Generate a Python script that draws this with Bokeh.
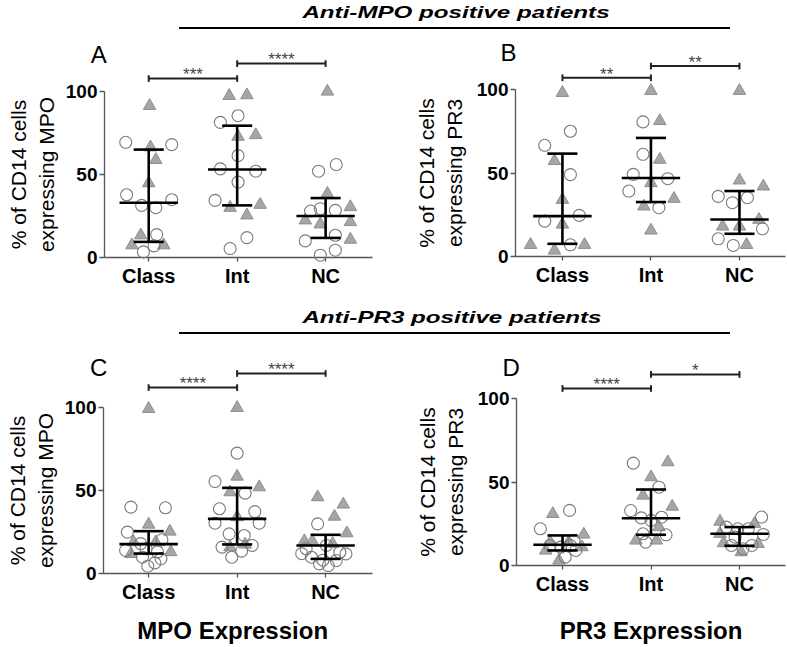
from bokeh.plotting import figure
from bokeh.models import Range1d, FixedTicker, Div
from bokeh.layouts import column, row
from bokeh.core.properties import value
from bokeh.embed import file_html
from bokeh.resources import INLINE

# ---------------- data ----------------
CATEGORIES = ["Class", "Int", "NC"]
Y_TICKS = [0, 50, 100]

# Panel A: anti-MPO patients, MPO expression
A_class_tri_y = [91.4, 66.4, 58.8, 44.8, 13.4, 7.4, 7.4]
A_class_tri_dx = [0.01, 0.02, 0.08, 0.0, -0.09, -0.19, 0.17]
A_class_circ_y = [69.4, 68.0, 37.8, 34.8, 31.4, 30.0, 13.8, 7.0, 3.4]
A_class_circ_dx = [-0.26, 0.26, -0.25, 0.26, -0.08, 0.08, 0.09, 0.06, -0.06]
A_int_tri_y = [97.4, 97.8, 72.8, 73.8, 30.0, 31.8, 25.4]
A_int_tri_dx = [-0.09, 0.11, 0.01, 0.21, -0.08, 0.26, 0.11]
A_int_circ_y = [81.4, 85.4, 61.4, 53.4, 52.0, 45.4, 34.4, 12.0, 5.4]
A_int_circ_dx = [-0.19, 0.01, 0.01, -0.19, 0.21, 0.01, -0.25, 0.11, -0.08]
A_nc_tri_y = [100.0, 38.4, 30.4, 22.4, 20.0, 21.4, 10.8]
A_nc_tri_dx = [0.02, 0.02, 0.28, -0.23, -0.06, 0.28, 0.28]
A_nc_circ_y = [56.0, 52.0, 28.0, 29.4, 28.4, 13.4, 10.0, 4.4, 1.4]
A_nc_circ_dx = [0.12, -0.08, -0.17, -0.06, 0.11, 0.11, -0.23, 0.11, -0.06]
A_median = [33.0, 53.0, 25.0]
A_q1 = [9.4, 31.4, 11.8]
A_q3 = [65.0, 79.4, 35.8]
A_sig = ["***", "****"]

# Panel B: anti-MPO patients, PR3 expression
B_class_tri_y = [98.0, 57.2, 34.0, 19.2, 7.0, 3.6, 7.0]
B_class_tri_dx = [0.0, -0.09, 0.0, 0.0, -0.36, -0.09, 0.25]
B_class_circ_y = [75.0, 66.6, 49.0, 24.6, 21.2, 7.0]
B_class_circ_dx = [0.09, -0.2, 0.09, 0.19, -0.2, 0.09]
B_int_tri_y = [99.2, 81.2, 58.0, 44.0, 30.0, 34.6, 15.6]
B_int_tri_dx = [0.0, 0.1, 0.1, 0.0, -0.08, 0.26, 0.0]
B_int_circ_y = [80.6, 61.2, 49.2, 46.6, 39.2, 29.2]
B_int_circ_dx = [-0.09, -0.09, -0.2, 0.19, -0.25, 0.09]
B_nc_tri_y = [99.2, 45.6, 42.0, 18.0, 18.0, 22.0, 7.0]
B_nc_tri_dx = [0.0, 0.0, 0.27, -0.19, 0.0, 0.22, 0.08]
B_nc_circ_y = [36.0, 32.2, 35.2, 16.6, 10.6, 6.6]
B_nc_circ_dx = [-0.24, -0.08, 0.09, 0.26, -0.24, -0.07]
B_median = [24.2, 47.0, 22.2]
B_q1 = [7.6, 32.6, 13.6]
B_q3 = [61.6, 71.0, 39.2]
B_sig = ["**", "**"]

# Panel C: anti-PR3 patients, MPO expression
C_class_tri_y = [99.2, 29.5, 25.3, 18.9, 18.9, 11.8, 12.9]
C_class_tri_dx = [0.0, 0.0, 0.24, -0.17, 0.08, -0.2, 0.25]
C_class_circ_y = [40.0, 39.6, 24.9, 20.3, 18.0, 13.9, 15.0, 13.0, 9.8, 9.0, 4.4, 6.4]
C_class_circ_dx = [-0.2, 0.19, -0.24, 0.15, -0.09, -0.26, -0.03, 0.1, -0.07, 0.14, -0.01, 0.07]
C_int_tri_y = [99.8, 58.4, 49.0, 52.0, 34.0, 15.9, 17.5]
C_int_tri_dx = [0.0, 0.0, -0.08, 0.25, 0.0, -0.08, 0.09]
C_int_circ_y = [72.5, 55.4, 48.4, 39.0, 37.3, 30.3, 30.3, 23.9, 22.9, 15.9, 16.9, 13.5, 9.8]
C_int_circ_dx = [0.0, -0.25, 0.09, -0.2, 0.2, -0.25, 0.25, -0.09, 0.08, -0.17, 0.17, 0.05, -0.06]
C_nc_tri_y = [46.0, 41.6, 34.3, 24.3, 19.5, 19.5, 17.9]
C_nc_tri_dx = [-0.09, 0.2, 0.1, 0.24, -0.24, -0.15, 0.08]
C_nc_circ_y = [29.9, 14.9, 16.9, 11.8, 9.8, 5.8, 4.8, 7.8, 12.8, 12.0, 8.0]
C_nc_circ_dx = [-0.09, -0.22, 0.01, 0.23, -0.16, -0.07, 0.03, 0.12, 0.16, -0.27, -0.03]
C_median = [17.7, 32.9, 16.9]
C_q1 = [12.0, 17.5, 8.8]
C_q3 = [25.5, 51.6, 23.3]
C_sig = ["****", "****"]

# Panel D: anti-PR3 patients, PR3 expression
D_class_tri_y = [30.9, 18.6, 11.0, 14.0, 14.0, 9.0, 3.0]
D_class_tri_dx = [-0.11, 0.24, 0.22, 0.07, -0.14, -0.19, -0.04]
D_class_circ_y = [33.0, 22.0, 12.0, 5.0, 9.0, 11.0, 12.0, 15.0]
D_class_circ_dx = [0.08, -0.25, 0.09, 0.03, 0.15, -0.02, -0.14, 0.13]
D_int_tri_y = [61.9, 52.9, 41.9, 35.3, 23.0, 15.0, 15.0]
D_int_tri_dx = [0.19, 0.0, -0.09, 0.24, 0.09, -0.17, 0.06]
D_int_circ_y = [61.3, 46.9, 32.9, 28.5, 27.0, 28.9, 19.0, 18.4, 14.0]
D_int_circ_dx = [-0.2, 0.09, -0.23, -0.11, 0.0, 0.12, -0.09, 0.17, -0.06]
D_nc_tri_y = [26.3, 25.0, 19.0, 13.4, 8.0, 13.0]
D_nc_tri_dx = [-0.22, 0.17, -0.22, -0.18, 0.02, 0.21]
D_nc_circ_y = [29.0, 23.0, 22.0, 18.6, 12.0, 10.0, 12.0, 17.0, 22.0]
D_nc_circ_dx = [0.25, -0.15, 0.1, 0.27, -0.09, 0.04, 0.14, -0.05, -0.02]
D_median = [12.4, 28.3, 19.0]
D_q1 = [9.0, 18.4, 11.8]
D_q3 = [18.0, 45.5, 23.0]
D_sig = ["****", "*"]

# ---------------- styles / layout ----------------
FONT = "Liberation Sans"
AXIS_COLOR = "#555555"
TRI_FILL = "#a6a6a6"
TRI_LINE = "#8e8e8e"
CIRC_LINE = "#7a7a7a"

LAYOUT = {
    "A": dict(w=395, h=256, bl=104, br=23, bt=51, bb=39, xr=(0.50, 3.53),
              brk=(107.8, 116.8), letter_xy=(0.435, 122.2), lab_std=5, xlab=None),
    "B": dict(w=392, h=256, bl=120, br=2, bt=49, bb=40, xr=(0.47, 3.52),
              brk=(107.0, 114.0), letter_xy=(0.39, 122.3), lab_std=8, xlab=None),
    "C": dict(w=395, h=295, bl=103, br=23, bt=55, bb=74, xr=(0.49, 3.53),
              brk=(112.0, 120.5), letter_xy=(0.435, 124.1), lab_std=5, xlab=(1.95, -34.4)),
    "D": dict(w=392, h=295, bl=121, br=2, bt=46, bb=82, xr=(0.48, 3.52),
              brk=(106.0, 114.4), letter_xy=(0.42, 118.8), lab_std=8, xlab=(2.0, -39.0)),
}


def make_panel(key, ylabel, xlabel, tri, circ, med, q1, q3, sig):
    L = LAYOUT[key]
    p = figure(width=L["w"], height=L["h"], x_range=Range1d(*L["xr"]), y_range=Range1d(0, 100),
               output_backend="svg", toolbar_location=None,
               min_border_left=L["bl"], min_border_right=L["br"],
               min_border_top=L["bt"], min_border_bottom=L["bb"])
    p.outline_line_color = None
    p.xgrid.visible = False
    p.ygrid.visible = False

    # axes
    p.xaxis.ticker = FixedTicker(ticks=[1, 2, 3])
    p.xaxis.major_label_overrides = {i + 1: c for i, c in enumerate(CATEGORIES)}
    p.yaxis.ticker = FixedTicker(ticks=Y_TICKS)
    for ax in (p.xaxis, p.yaxis):
        ax.axis_line_color = AXIS_COLOR
        ax.axis_line_width = 1.3
        ax.major_tick_line_color = AXIS_COLOR
        ax.major_tick_line_width = 1.3
        ax.major_tick_in = 0
        ax.minor_tick_line_color = None
        ax.major_label_text_font = FONT
        ax.major_label_text_font_style = "bold"
        ax.major_label_text_color = "black"
    p.xaxis.major_tick_out = 4
    p.xaxis.major_label_standoff = 3
    p.xaxis.major_label_text_font_size = "20px"
    p.yaxis.major_tick_out = 5
    p.yaxis.major_label_standoff = 2
    p.yaxis.major_label_text_font_size = "19px"
    p.yaxis.axis_label = ylabel
    p.yaxis.axis_label_text_font = FONT
    p.yaxis.axis_label_text_font_style = "normal"
    p.yaxis.axis_label_text_font_size = "21px"
    p.yaxis.axis_label_text_color = "black"
    p.yaxis.axis_label_standoff = L["lab_std"]

    # points
    for i, (dx, ys) in enumerate(tri):
        p.scatter([i + 1 + d for d in dx], ys, marker="triangle", size=12.5,
                  fill_color=TRI_FILL, line_color=TRI_LINE, line_width=1, level="overlay")
    for i, (dx, ys) in enumerate(circ):
        p.scatter([i + 1 + d for d in dx], ys, marker="circle", size=12,
                  fill_color=None, line_color=CIRC_LINE, line_width=1.1, level="overlay")

    # median + interquartile range
    xs = [1, 2, 3]
    kw = dict(line_color="black", line_width=2.6, level="overlay")
    p.segment(x0=xs, y0=q1, x1=xs, y1=q3, **kw)
    p.segment(x0=[x - 0.33 for x in xs], y0=med, x1=[x + 0.33 for x in xs], y1=med, **kw)
    p.segment(x0=[x - 0.17 for x in xs], y0=q1, x1=[x + 0.17 for x in xs], y1=q1, **kw)
    p.segment(x0=[x - 0.17 for x in xs], y0=q3, x1=[x + 0.17 for x in xs], y1=q3, **kw)

    # significance brackets
    b0, b1 = L["brk"]
    bk = dict(line_color="#222222", line_width=2, level="overlay")
    p.segment(x0=[1, 2], y0=[b0, b1], x1=[2, 3], y1=[b0, b1], **bk)
    p.segment(x0=[1, 2, 2, 3], y0=[b0 - 2, b0 - 2, b1 - 2, b1 - 2],
              x1=[1, 2, 2, 3], y1=[b0 + 2, b0 + 2, b1 + 2, b1 + 2], **bk)
    p.text(x=[1.5, 2.5], y=[b0 + 2.2, b1 + 2.2], text=sig, text_font=value(FONT),
           text_font_size=value("17px"), text_color="#444444", text_align="center",
           text_baseline="middle", level="overlay")

    # panel letter
    lx, ly = L["letter_xy"]
    p.text(x=[lx], y=[ly], text=[key], text_font=value(FONT), text_font_size=value("24px"),
           text_color="black", text_align="center", text_baseline="alphabetic", level="overlay")

    if xlabel is not None:
        ex, ey = L["xlab"]
        p.text(x=[ex], y=[ey], text=[xlabel], text_font=value(FONT), text_font_size=value("24px"),
               text_font_style="bold", text_color="black", text_align="center",
               text_baseline="alphabetic", level="overlay")
    return p


pA = make_panel("A", "% of CD14 cells\nexpressing MPO", None,
                [(A_class_tri_dx, A_class_tri_y), (A_int_tri_dx, A_int_tri_y), (A_nc_tri_dx, A_nc_tri_y)],
                [(A_class_circ_dx, A_class_circ_y), (A_int_circ_dx, A_int_circ_y), (A_nc_circ_dx, A_nc_circ_y)],
                A_median, A_q1, A_q3, A_sig)
pB = make_panel("B", "% of CD14 cells\nexpressing PR3", None,
                [(B_class_tri_dx, B_class_tri_y), (B_int_tri_dx, B_int_tri_y), (B_nc_tri_dx, B_nc_tri_y)],
                [(B_class_circ_dx, B_class_circ_y), (B_int_circ_dx, B_int_circ_y), (B_nc_circ_dx, B_nc_circ_y)],
                B_median, B_q1, B_q3, B_sig)
pC = make_panel("C", "% of CD14 cells\nexpressing MPO", "MPO Expression",
                [(C_class_tri_dx, C_class_tri_y), (C_int_tri_dx, C_int_tri_y), (C_nc_tri_dx, C_nc_tri_y)],
                [(C_class_circ_dx, C_class_circ_y), (C_int_circ_dx, C_int_circ_y), (C_nc_circ_dx, C_nc_circ_y)],
                C_median, C_q1, C_q3, C_sig)
pD = make_panel("D", "% of CD14 cells\nexpressing PR3", "PR3 Expression",
                [(D_class_tri_dx, D_class_tri_y), (D_int_tri_dx, D_int_tri_y), (D_nc_tri_dx, D_nc_tri_y)],
                [(D_class_circ_dx, D_class_circ_y), (D_int_circ_dx, D_int_circ_y), (D_nc_circ_dx, D_nc_circ_y)],
                D_median, D_q1, D_q3, D_sig)


def heading(text, height, text_top, text_left, line_top):
    html = (
        f'<div style="position:relative;width:787px;height:{height}px;overflow:visible;">'
        f'<div style="position:absolute;left:{text_left}px;top:{text_top}px;width:300px;'
        f"text-align:center;font-family:'{FONT}';font-weight:bold;font-style:italic;"
        f'font-size:17px;line-height:17px;white-space:nowrap;color:#000;'
        f'transform:scaleX(1.42);transform-origin:center;">{text}</div>'
        f'<div style="position:absolute;left:179px;top:{line_top}px;width:551px;height:0;'
        f'border-top:2px solid #000;"></div></div>'
    )
    return Div(text=html, width=787, height=height, margin=(0, 0, 0, 0))


h1 = heading("Anti-MPO positive patients", 40, 4, 306, 27)
h2 = heading("Anti-PR3 positive patients", 56, 13, 302, 36)

# each panel wrapped in its own column so that its frame keeps its own borders
layout = column(h1, row(column(pA), column(pB)), h2, row(column(pC), column(pD)))
open("out.html", "w").write(file_html(layout, INLINE))
